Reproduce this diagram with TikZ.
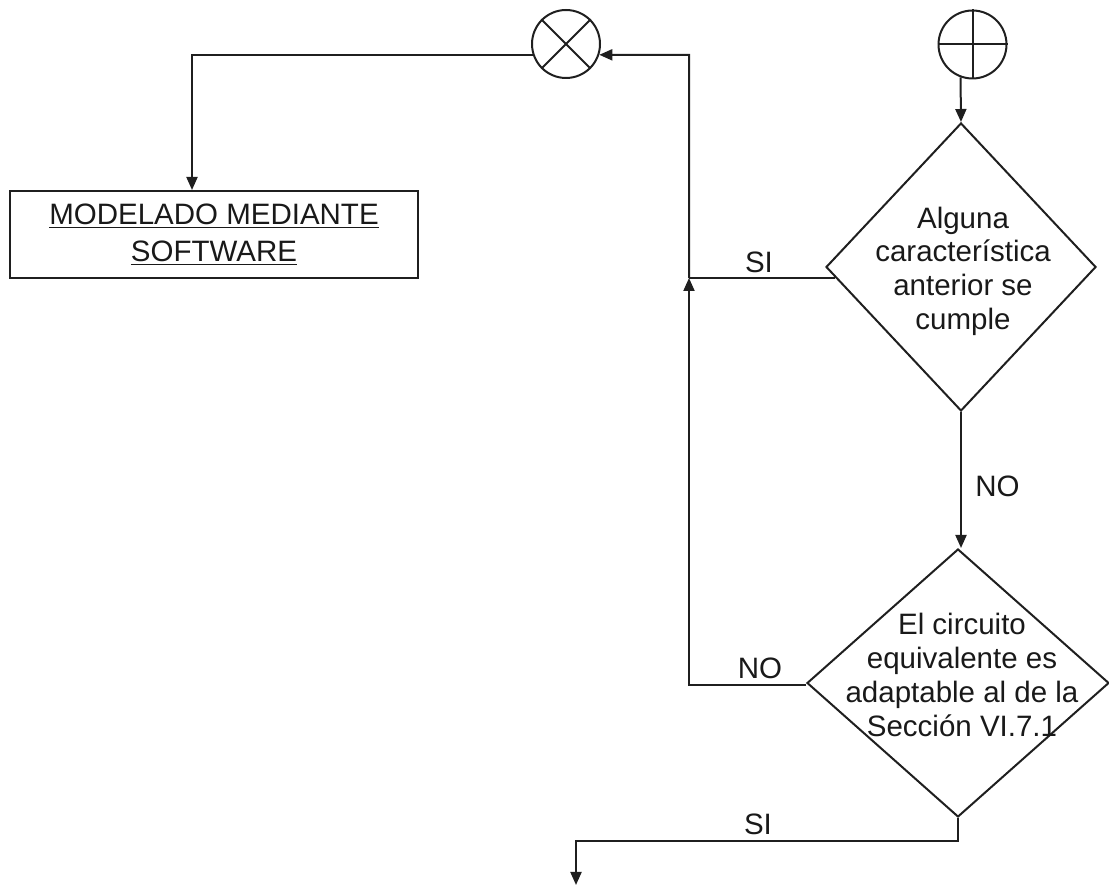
\documentclass[tikz,border=0pt]{standalone}
\usepackage{fontspec}
\setmainfont{Liberation Sans}
\usetikzlibrary{shapes.geometric,arrows.meta}
\begin{document}
\begin{tikzpicture}[x=0.5pt,y=-0.5pt,
  line/.style={line width=1pt,draw=black!88},
  arr/.style={line,-{Triangle[length=6.5pt,width=5.5pt]}},
  txt/.style={font=\fontsize{14.75pt}{16.85pt}\selectfont,text=black!90,inner sep=0pt},
  dia/.style={diamond,line,inner sep=0pt,aspect=1},
  sym/.style={circle,line,minimum size=34pt,inner sep=0pt},
  procbox/.style={rectangle,line,minimum width=204pt,minimum height=43.5pt,inner sep=0pt,
     align=center,font=\fontsize{14.75pt}{18.5pt}\selectfont,text=black!90}]
\useasboundingbox (0,0) rectangle (1109,886);
% nodes
\node[sym] (xc) at (566,44) {};
\draw[line] (xc.45) -- (xc.225) (xc.135) -- (xc.315);
\node[sym] (pc) at (972.5,44.5) {};
\draw[line] (pc.north) -- (pc.south) (pc.west) -- (pc.east);
\node[procbox] (box) at (214,234.5) {\underline{MODELADO MEDIANTE}\\\underline{SOFTWARE}};
\node[dia,minimum width=135pt,minimum height=144pt] (d1) at (961,267) {};
\node[txt,align=center] (t1) at (963,271) {Alguna\\caracter\'istica\\anterior se\\cumple};
\node[dia,minimum width=151pt,minimum height=134pt] (d2) at (958,683) {};
\node[txt,align=center] (t2) at (962,675) {El circuito\\equivalente es\\adaptable al de la\\Secci\'on VI.7.1};
% junction coordinates
\coordinate (j3) at (689,55);
\coordinate (j2) at (689,685);
\coordinate (b1) at (576,841);
\coordinate (out) at (576,885);
% connectors
\draw[arr] (xc.198.9) -| (box.north -| 192,0);
\draw[arr] (pc.250.5) -- (d1.north);
\draw[line] (d1.185.5) -- (d1.185.5 -| j2) coordinate (j1);
\draw[arr] (d2.west |- j2) -- (j2) -- (j1);
\draw[arr] (j1) -- (j3) -- (xc.-18.9);
\draw[arr] (d1.south) -- (d1.south |- d2.north);
\draw[arr] (d2.south) |- (b1) -- (out);
% labels
\node[txt] (l1) at (759,262) {SI};
\node[txt] (l2) at (997.5,486) {NO};
\node[txt] (l3) at (760,668) {NO};
\node[txt] (l4) at (758,824) {SI};
\end{tikzpicture}
\end{document}
